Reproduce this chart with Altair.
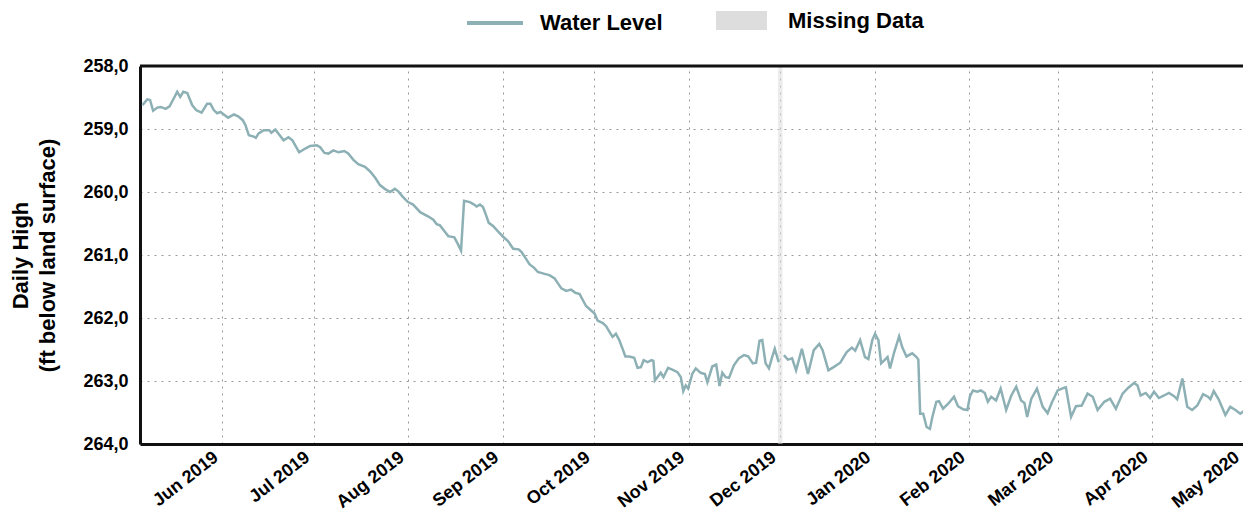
import altair as alt
import pandas as pd

# ---- data ----
start_date = "2019-05-05"
days = [
    0.8, 2.4, 3.3, 4.3, 5.7, 6.8, 8.4, 9.7, 10.8, 12.2, 13.2, 14.2, 15.5, 17.1, 18.4, 20.2,
    22.0, 23.1, 24.2, 25.3, 26.4, 27.5, 28.9, 30.8, 32.2, 33.7, 34.6, 35.7, 37.3, 38.0, 38.9,
    40.6, 42.4, 43.1, 44.4, 45.5, 47.1, 48.7, 50.0, 52.2, 54.2, 55.8, 58.0, 59.1, 60.5, 61.8,
    63.4, 65.1, 67.0, 68.3, 70.0, 71.6, 73.8, 75.4, 77.1, 78.7, 80.3, 82.0, 83.6, 84.7, 86.3,
    87.9, 89.6, 91.9, 94.6, 96.2, 97.3, 98.4, 100.0, 101.1, 103.1, 104.2, 105.3, 106.3, 108.2,
    109.6, 110.4, 111.5, 112.5, 113.3, 114.4, 115.8, 117.5, 119.1, 120.7, 122.4, 124.2, 125.1,
    126.2, 127.8, 129.2, 130.5, 132.7, 134.3, 136.0, 137.1, 138.2, 139.8, 141.4, 142.8, 144.2,
    145.2, 146.3, 147.7, 149.1, 150.1, 151.8, 152.9, 154.0, 155.0, 156.1, 157.2, 158.3, 159.2,
    160.5, 162.1, 163.2, 164.3, 165.2, 166.5, 167.8, 168.4, 168.9, 169.7, 170.8, 171.7, 173.2,
    174.6, 176.3, 177.4, 178.2, 179.0, 179.8, 181.2, 182.3, 183.9, 185.3, 186.1, 187.7, 189.0,
    190.1, 191.0, 192.1, 193.2, 194.8, 196.4, 198.1, 199.5, 201.0, 202.1, 203.2, 204.1, 205.2,
    206.3, 207.3, 208.2, 209.5,
    211.2, 212.5, 213.9, 215.2, 217.1, 219.1, 221.0, 222.8, 223.9, 225.8, 227.5, 229.7, 231.8,
    233.5, 234.6, 236.2, 237.8, 238.9, 240.2, 241.1, 242.2, 243.1, 244.2, 245.2, 246.0, 247.4,
    249.0, 250.0, 251.4, 253.3, 254.7, 255.3, 255.9, 256.9, 258.0, 259.1, 259.9, 261.2, 262.1,
    263.4, 265.1, 267.0, 268.3, 270.0, 271.4, 272.2, 273.2, 274.6, 275.8, 277.1, 278.1, 279.2,
    280.8, 282.3, 284.1, 285.8, 287.4, 289.0, 290.1, 291.0, 292.3, 294.2, 296.1, 297.7, 299.1,
    301.0, 303.0, 303.7, 305.4, 307.0, 308.9, 310.8, 312.5, 314.1, 316.3, 318.2, 320.1, 322.3,
    324.1, 326.1, 327.2, 328.2, 329.9, 331.3, 332.6, 334.2, 335.9, 337.5, 339.2, 340.2, 341.9,
    343.5, 345.1, 346.8, 348.7, 350.3, 351.1, 352.2, 353.8, 356.0, 357.6, 359.3, 360.9, 362.5,
    363.4,
]
levels = [
    258.62, 258.53, 258.54, 258.71, 258.66, 258.65, 258.68, 258.64, 258.54, 258.41, 258.49,
    258.41, 258.43, 258.62, 258.70, 258.74, 258.60, 258.60, 258.70, 258.75, 258.73, 258.77,
    258.82, 258.77, 258.80, 258.86, 258.94, 259.10, 259.12, 259.14, 259.07, 259.02, 259.02,
    259.06, 259.01, 259.08, 259.18, 259.13, 259.18, 259.37, 259.31, 259.27, 259.26, 259.29,
    259.38, 259.39, 259.34, 259.37, 259.35, 259.39, 259.49, 259.56, 259.60, 259.67, 259.77,
    259.89, 259.95, 260.00, 259.95, 259.99, 260.08, 260.16, 260.20, 260.32, 260.39, 260.44,
    260.51, 260.53, 260.63, 260.70, 260.72, 260.82, 260.93, 260.14, 260.16, 260.20, 260.23,
    260.20, 260.24, 260.34, 260.49, 260.54, 260.63, 260.71, 260.78, 260.90, 260.91, 260.95,
    261.03, 261.15, 261.20, 261.27, 261.30, 261.32, 261.37, 261.45, 261.53, 261.57, 261.55,
    261.60, 261.62, 261.71, 261.81, 261.87, 261.93, 262.04, 262.08, 262.13, 262.22, 262.30,
    262.25, 262.35, 262.49, 262.61, 262.61, 262.63, 262.79, 262.78, 262.67, 262.70, 262.67,
    262.68, 262.99, 262.94, 262.87, 262.94, 262.79, 262.82, 262.86, 262.94, 263.16, 263.07,
    263.12, 262.88, 262.80, 262.87, 262.89, 263.02, 262.77, 262.74, 263.08, 262.87, 262.94,
    262.95, 262.75, 262.64, 262.59, 262.61, 262.72, 262.71, 262.36, 262.35, 262.72, 262.80,
    262.63, 262.49, 262.70,
    262.59, 262.66, 262.64, 262.83, 262.49, 262.89, 262.51, 262.41, 262.51, 262.83, 262.78,
    262.71, 262.54, 262.47, 262.52, 262.35, 262.62, 262.65, 262.35, 262.25, 262.35, 262.72,
    262.67, 262.62, 262.80, 262.54, 262.29, 262.46, 262.61, 262.56, 262.62, 262.66, 263.52,
    263.52, 263.73, 263.76, 263.57, 263.33, 263.32, 263.44, 263.36, 263.25, 263.40, 263.45,
    263.46, 263.25, 263.15, 263.17, 263.15, 263.19, 263.33, 263.25, 263.31, 263.12, 263.46,
    263.23, 263.09, 263.31, 263.35, 263.57, 263.29, 263.12, 263.41, 263.51, 263.34, 263.15,
    263.11, 263.10, 263.57, 263.40, 263.39, 263.20, 263.25, 263.46, 263.33, 263.28, 263.44,
    263.20, 263.11, 263.03, 263.07, 263.23, 263.19, 263.27, 263.17, 263.27, 263.23, 263.19,
    263.24, 263.29, 262.96, 263.41, 263.46, 263.39, 263.21, 263.25, 263.29, 263.16, 263.29,
    263.54, 263.41, 263.46, 263.52, 263.46, 263.44,
]
gap_after_day = 210.0
missing_start = ["2019-11-30T06:00:00"]
missing_end = ["2019-12-01T18:00:00"]
y_ticks = [258, 259, 260, 261, 262, 263, 264]
month_ticks = [(2019, m) for m in range(6, 13)] + [(2020, m) for m in range(1, 6)]

LINE_COLOR = "#8db0b5"
BAND_COLOR = "#dddddd"
FONT = "Liberation Sans"

dates = pd.Timestamp(start_date) + pd.to_timedelta(days, unit="D")
df = pd.DataFrame({
    "date": dates.strftime("%Y-%m-%dT%H:%M:%S"),
    "level": levels,
    "seg": [0 if d < gap_after_day else 1 for d in days],
    "series": "Water Level",
})
band_df = pd.DataFrame({"start": missing_start, "end": missing_end, "label": "Missing Data"})

x_scale = alt.Scale(domain=[alt.DateTime(year=2019, month=5, date=5),
                            alt.DateTime(year=2020, month=5, date=3, hours=10)])
y_scale = alt.Scale(domain=[258, 264], reverse=True)

band = alt.Chart(band_df).mark_rect(opacity=0.55).encode(
    x=alt.X("start:T", scale=x_scale),
    x2="end:T",
    fill=alt.Fill("label:N",
                  scale=alt.Scale(domain=["Missing Data"], range=[BAND_COLOR]),
                  legend=alt.Legend(orient="none", legendX=576, legendY=-71, title=None,
                                    symbolType="M-1,-0.37L1,-0.37L1,0.37L-1,0.37Z",
                                    symbolSize=2601, symbolStrokeWidth=0, symbolOpacity=1,
                                    labelFont=FONT, labelFontSize=22, labelFontWeight="bold",
                                    labelColor="black", labelOffset=21, padding=0)),
)

line = alt.Chart(df).mark_line(strokeWidth=2.5).encode(
    x=alt.X("date:T", scale=x_scale,
            axis=alt.Axis(title=None, format="%b %Y",
                          values=[alt.DateTime(year=y, month=m, date=1) for y, m in month_ticks],
                          labelAngle=-38, labelAlign="right", labelBaseline="top",
                          labelPadding=4, labelOffset=-12, ticks=False,
                          labelFont=FONT, labelFontSize=18, labelFontWeight="bold",
                          labelColor="black", domainColor="#111", domainWidth=3,
                          grid=True, gridDash=[2, 5], gridColor="#999999", gridWidth=1)),
    y=alt.Y("level:Q", scale=y_scale,
            axis=alt.Axis(title=["Daily High", "(ft below land surface)"],
                          values=y_ticks,
                          labelExpr="replace(format(datum.value, '.1f'), '.', ',')",
                          ticks=False, labelPadding=12,
                          labelFont=FONT, labelFontSize=18, labelFontWeight="bold",
                          labelColor="black", domainColor="#111", domainWidth=3,
                          titleFont=FONT, titleFontSize=22, titleFontWeight="bold",
                          titleColor="black", titlePadding=23, titleLineHeight=27,
                          grid=True, gridDash=[2, 5], gridColor="#999999", gridWidth=1)),
    detail="seg:N",
    color=alt.Color("series:N",
                    scale=alt.Scale(domain=["Water Level"], range=[LINE_COLOR]),
                    legend=alt.Legend(orient="none", legendX=325, legendY=-73, title=None,
                                      symbolType="stroke", symbolSize=3136,
                                      symbolStrokeWidth=4,
                                      labelFont=FONT, labelFontSize=22, labelFontWeight="bold",
                                      labelColor="black", labelOffset=15, padding=0)),
)

top_rule = alt.Chart(alt.Data(values=[{}])).mark_rule(color="#111", strokeWidth=3).encode(
    y=alt.value(0)
)

chart = alt.layer(band, line, top_rule).resolve_scale(color="independent").properties(
    width=1111,
    height=378,
    autosize=alt.AutoSizeParams(type="none"),
    padding={"left": 132, "top": 58, "right": -8, "bottom": 71},
).configure_view(stroke=None).configure(background="white")

chart.save("out.html", embed_options={"renderer": "svg", "actions": False})
